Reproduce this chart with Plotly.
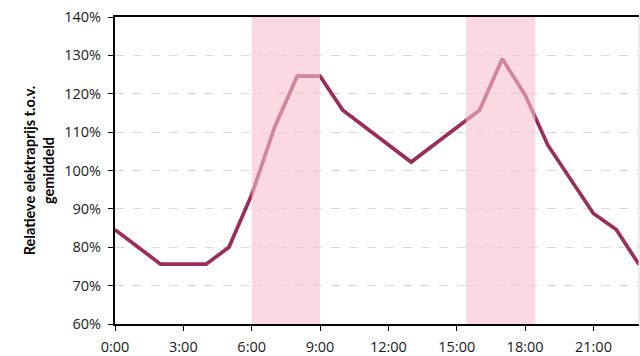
import plotly.graph_objects as go

hours = list(range(24))
price_pct = [84.6, 80.1, 75.6, 75.6, 75.6, 80.0, 93.7, 111.2, 124.6, 124.6,
             115.7, 111.2, 106.7, 102.2, 106.7, 111.2, 115.7, 129.1, 119.7, 106.6,
             97.7, 88.8, 84.6, 75.5]
peak_periods = [(6.0, 9.0), (15.4, 18.45)]
x_tickvals = [0, 3, 6, 9, 12, 15, 18, 21]
x_ticktext = ["0:00", "3:00", "6:00", "9:00", "12:00", "15:00", "18:00", "21:00"]
y_tickvals = [60, 70, 80, 90, 100, 110, 120, 130, 140]
y_ticktext = [f"{v}%" for v in y_tickvals]

fig = go.Figure()
fig.add_trace(go.Scatter(
    x=hours, y=price_pct, mode="lines",
    line=dict(color="#9B2D5A", width=3.7),
    showlegend=False, hoverinfo="skip",
))

for x0, x1 in peak_periods:
    fig.add_shape(type="rect", xref="x", yref="paper", x0=x0, x1=x1, y0=0, y1=1,
                  fillcolor="#F6BFD0", opacity=0.6, line=dict(width=0), layer="above")

fig.add_shape(type="line", xref="paper", yref="paper", x0=1, x1=1, y0=0, y1=1,
              line=dict(color="#d9d9d9", width=1))

fig.update_layout(
    width=640, height=356,
    margin=dict(l=115, r=1, t=17, b=32, autoexpand=False),
    paper_bgcolor="white", plot_bgcolor="white",
    font=dict(family="Open Sans, Liberation Sans, sans-serif", size=14.5, color="#1a1a1a"),
    xaxis=dict(range=[0, 23], tickmode="array", tickvals=x_tickvals, ticktext=x_ticktext,
               showgrid=False, zeroline=False, automargin=False,
               showline=True, linecolor="black", linewidth=2, mirror=True,
               ticks="outside", ticklen=5, tickcolor="black",
               ticklabelstandoff=4,
               ticklabeloverflow="allow", tickfont=dict(size=14.5)),
    yaxis=dict(range=[60, 140], tickmode="array", tickvals=y_tickvals, ticktext=y_ticktext,
               showgrid=True, gridcolor="#d9d9d9", griddash="dash", gridwidth=1,
               zeroline=False, automargin=False,
               showline=True, linecolor="black", linewidth=2,
               ticks="outside", ticklen=5, tickcolor="black",
               ticklabelstandoff=4,
               ticklabeloverflow="allow", tickfont=dict(size=14.5),
               title=dict(text="<b>Relatieve elektraprijs t.o.v.<br>gemiddeld</b>",
                          font=dict(family="Lato, Open Sans, sans-serif", size=14.5, color="black"),
                          standoff=6)),
)

fig.write_html("out.html", config={"displayModeBar": False},
               post_script="document.body.style.margin='0';document.body.style.overflow='hidden';")
